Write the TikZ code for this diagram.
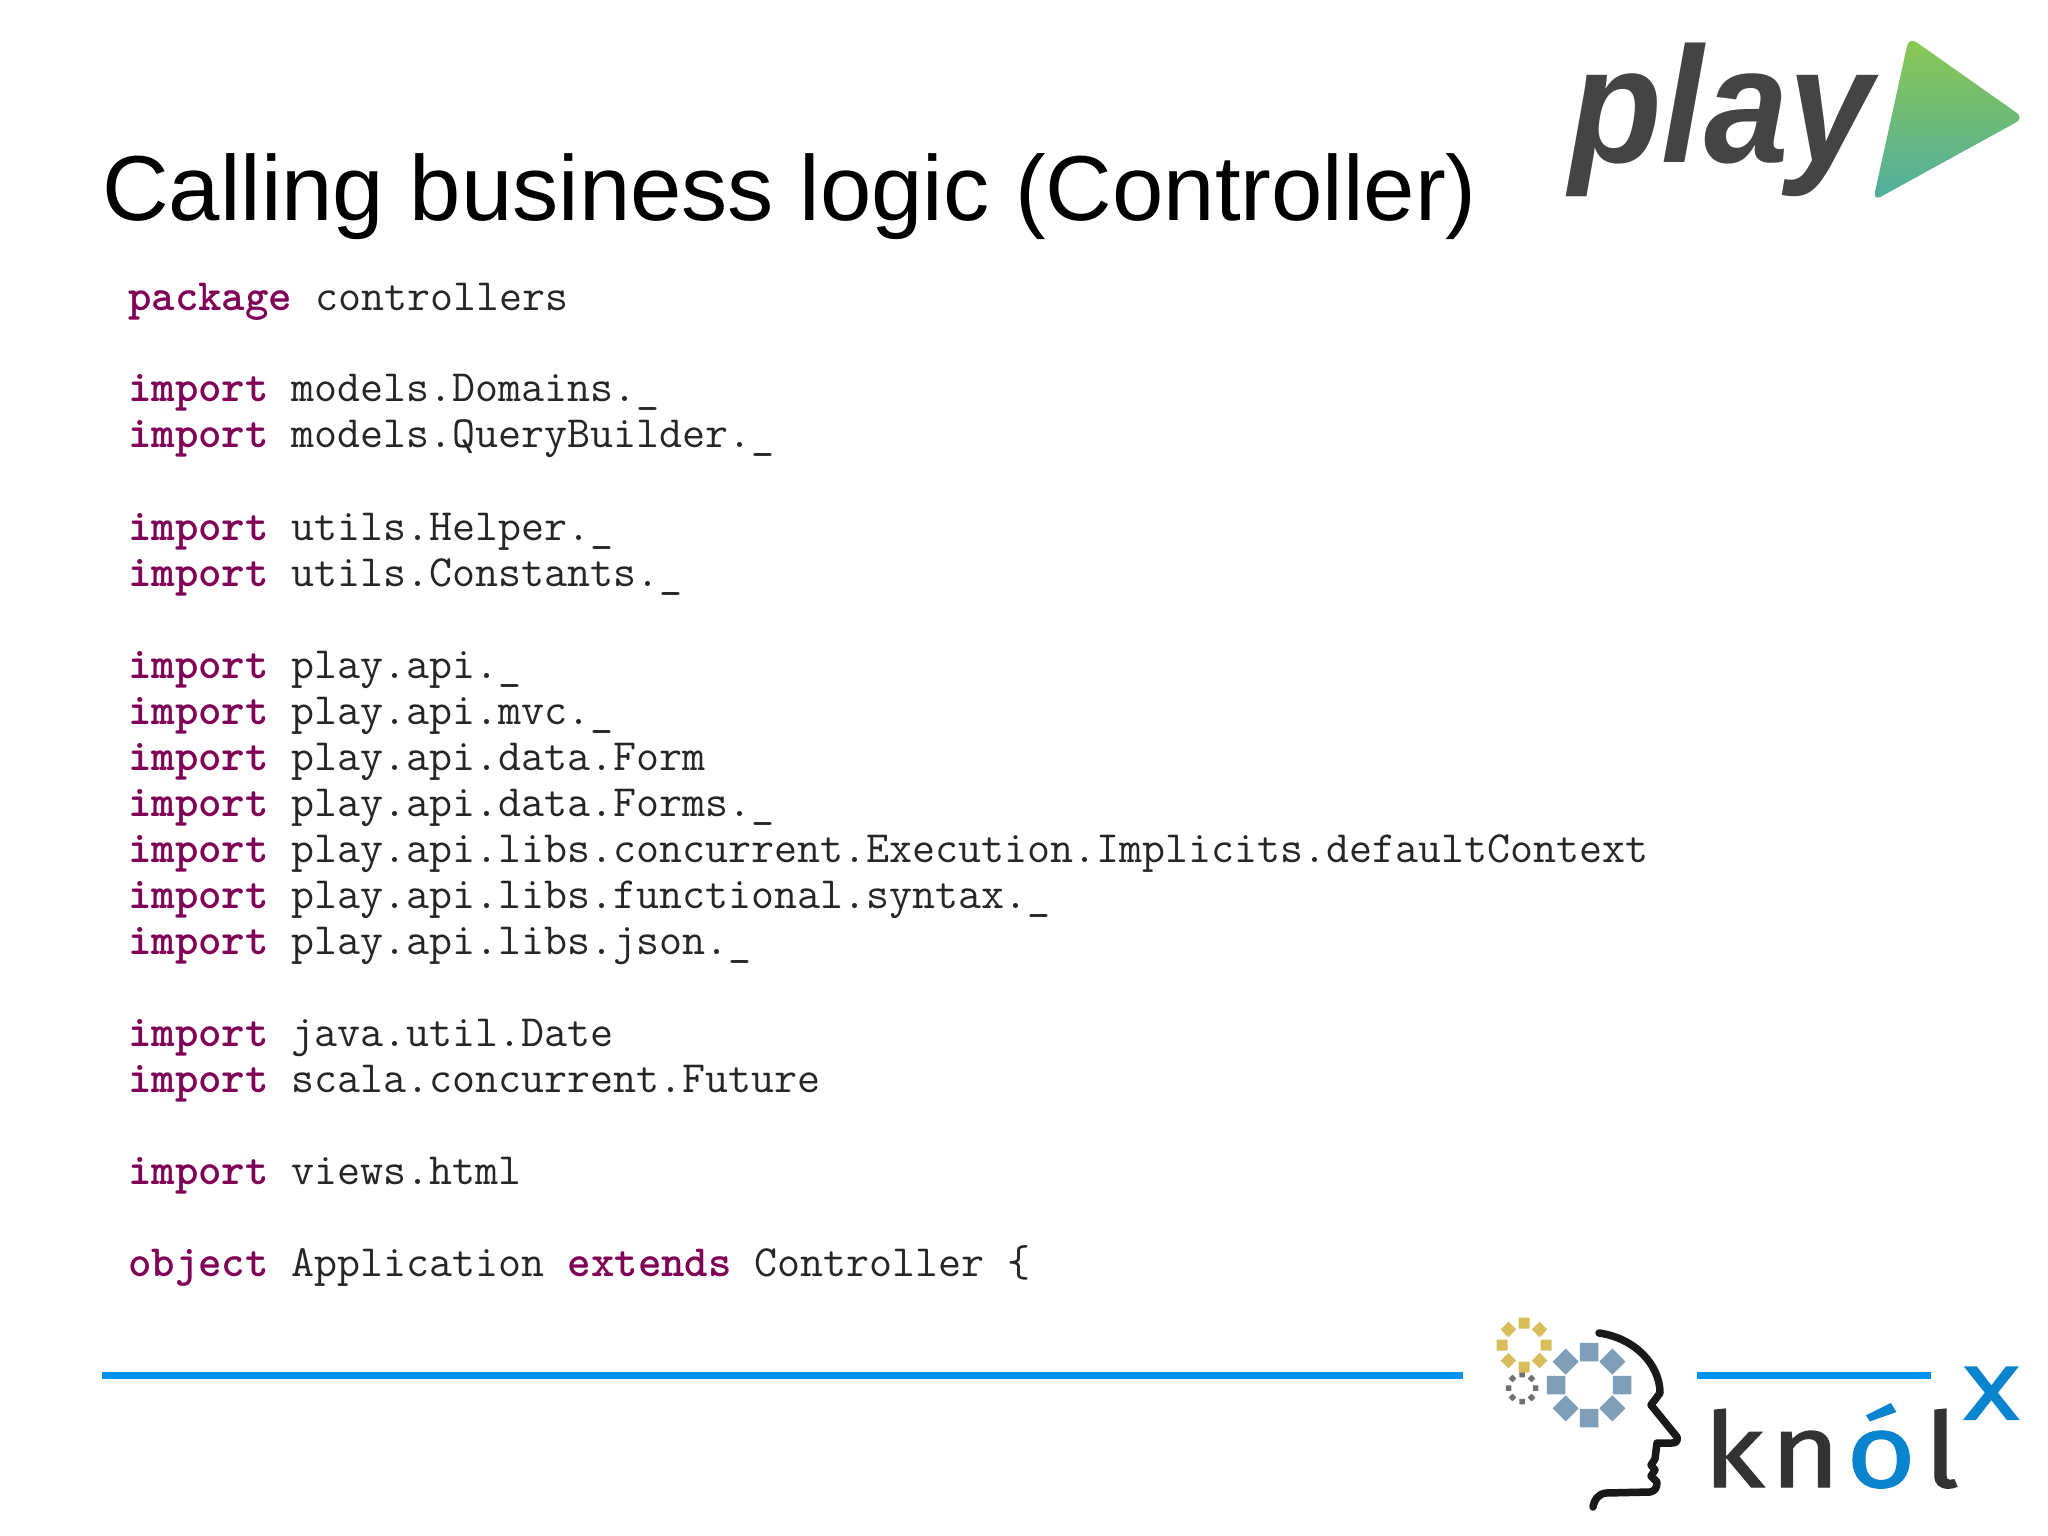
\documentclass[tikz,border=0pt]{standalone}
\usepackage{fontspec}
\usetikzlibrary{calc}
\setmainfont{Liberation Sans}
\newfontfamily\knolfont[FakeBold=1.2,FakeStretch=1.15]{Fira Sans}
\newfontfamily\knolxfont[FakeBold=2.5,FakeStretch=1.12]{Open Sans}
\newfontfamily\playfont[FakeStretch=0.92]{Liberation Sans}
\definecolor{kwcol}{HTML}{7F0055}
\definecolor{rulecol}{HTML}{0092F0}
\definecolor{logodark}{HTML}{444444}
\definecolor{knoldark}{HTML}{333333}
\definecolor{knolblue}{HTML}{0A84CE}
\definecolor{tritop}{HTML}{8BC751}
\definecolor{tribot}{HTML}{4FAEA0}
\definecolor{gearyellow}{HTML}{D8BE5A}
\definecolor{gearblue}{HTML}{7F9FB8}
\definecolor{geargray}{HTML}{707070}
\newcommand{\kw}[1]{\textcolor{kwcol}{\bfseries #1}}
\tikzset{
  codeline/.style={anchor=base west,inner sep=0pt,text=black!85,font=\ttfamily\fontsize{44.65}{46}\selectfont},
  blueRule/.style={draw=rulecol,line width=7pt},
  gearsq/.style={inner sep=0pt,minimum size=#1,rectangle,rounded corners=0.5pt},
  knolletter/.style={anchor=base west,inner sep=0pt,font=\knolfont\fontsize{104}{104}\selectfont},
}
\begin{document}
\begin{tikzpicture}[x=1pt,y=-1pt]
\useasboundingbox (0,0) rectangle (2048,1536);
\fill[white] (0,0) rectangle (2048,1536);

\node[anchor=base west,inner sep=0pt,font=\fontsize{92.3}{92}\selectfont] (title) at (102,220) {Calling business logic (Controller)};

\node[codeline] (c1) at (128,310) {\kw{package} controllers};
\node[codeline] (c2) at (128,401) {\kw{import} models.Domains.\_};
\node[codeline] (c3) at (128,447) {\kw{import} models.QueryBuilder.\_};
\node[codeline] (c4) at (128,540) {\kw{import} utils.Helper.\_};
\node[codeline] (c5) at (128,586) {\kw{import} utils.Constants.\_};
\node[codeline] (c6) at (128,678) {\kw{import} play.api.\_};
\node[codeline] (c7) at (128,724) {\kw{import} play.api.mvc.\_};
\node[codeline] (c8) at (128,770) {\kw{import} play.api.data.Form};
\node[codeline] (c9) at (128,816) {\kw{import} play.api.data.Forms.\_};
\node[codeline] (c10) at (128,862) {\kw{import} play.api.libs.concurrent.Execution.Implicits.defaultContext};
\node[codeline] (c11) at (128,908) {\kw{import} play.api.libs.functional.syntax.\_};
\node[codeline] (c12) at (128,954) {\kw{import} play.api.libs.json.\_};
\node[codeline] (c13) at (128,1046) {\kw{import} java.util.Date};
\node[codeline] (c14) at (128,1092) {\kw{import} scala.concurrent.Future};
\node[codeline] (c15) at (128,1184) {\kw{import} views.html};
\node[codeline] (c16) at (128,1276) {\kw{object} Application \kw{extends} Controller \{};

% play logo
\node[anchor=base west,inner sep=0pt,text=logodark,font=\playfont\fontsize{165}{165}\selectfont\bfseries\itshape] (play) at (1569,163) {play};
\path[rounded corners=9pt,top color=tritop,bottom color=tribot] (1909,37) -- (2024,118) -- (1873,201) -- cycle;

% rules
\coordinate (r1a) at (102,1375);
\coordinate (r1b) at (1463,1375);
\coordinate (r2a) at (1697,1375);
\coordinate (r2b) at (1931,1375);
\draw[blueRule] (r1a) -- (r1b);
\draw[blueRule] (r2a) -- (r2b);

% gears
\foreach \a in {0,45,...,315}{
  \node[gearsq=11pt,fill=gearyellow,rotate=\a] at ($(1524,1345)+(\a:22pt)$) {};
  \node[gearsq=18.5pt,fill=gearblue,rotate=\a] at ($(1589,1385)+(\a:33pt)$) {};
  \node[gearsq=5.5pt,fill=geargray,rotate=\a] at ($(1522,1388)+(\a:13.5pt)$) {};
}

% head
\draw[line width=7.5pt,line cap=round,line join=round,black!90]
  (1599,1333) .. controls (1635,1338) and (1660,1365) .. (1660,1393)
  -- (1651,1405) -- (1677,1437) .. controls (1678,1441) and (1676,1443) .. (1672,1443)
  -- (1657,1443) -- (1655,1459) -- (1651,1465) -- (1655,1470) -- (1651,1476) -- (1657,1482)
  .. controls (1657,1488) and (1655,1491) .. (1650,1492)
  -- (1606,1493) .. controls (1598,1494) and (1594,1500) .. (1593,1507);

% knol logo
\node[knolletter,text=knoldark] (knolk) at (1703,1487) {k};
\node[knolletter,text=knoldark] (knoln) at (1770,1487) {n};
\node[knolletter,text=knolblue] (knolo) at (1846,1487) {ó};
\node[knolletter,text=knoldark] (knoll) at (1924,1487) {l};
\node[anchor=base west,inner sep=0pt,font=\knolxfont\fontsize{96}{96}\selectfont,text=knolblue] (knolx) at (1963,1419) {x};
\end{tikzpicture}
\end{document}
